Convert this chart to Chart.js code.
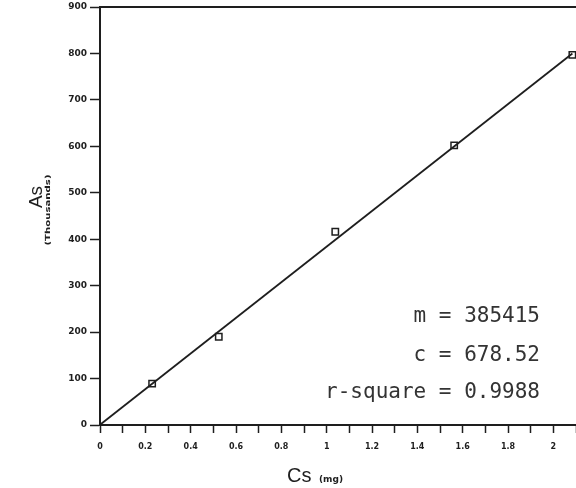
<!DOCTYPE html>
<html>
<head>
<meta charset="UTF-8">
<title>As vs Cs</title>
<script src="https://cdn.jsdelivr.net/npm/chart.js"></script>
<style>
  body { margin:0; background:#fff; }
  #wrap { width:576px; height:488px; position:relative; }
</style>
</head>
<body>
<div id="wrap"><canvas id="c"></canvas></div>
<script>
// measured standards (Cs in mg, As in thousands)
const csValues = [0.23, 0.524, 1.038, 1.5625, 2.084];
const asValues = [89, 190, 416, 602, 797];
// fitted line end points
const fitX = [0, 2.084];
const fitY = [0.7, 800];
const statLines = ['m = 385415', 'c = 678.52', 'r-square = 0.9988'];

const ink = '#1e1e1e';

const labels = {
  id: 'labels',
  afterDraw(chart) {
    const ctx = chart.ctx;
    ctx.save();
    ctx.fillStyle = '#333';
    ctx.font = '21px "DejaVu Sans Mono"';
    ctx.textAlign = 'right';
    ctx.textBaseline = 'middle';
    [317, 356, 393].forEach((y, i) => ctx.fillText(statLines[i], 540, y));

    // x title
    ctx.fillStyle = ink;
    ctx.textAlign = 'left';
    ctx.textBaseline = 'alphabetic';
    ctx.font = '20px "Liberation Sans"';
    ctx.fillText('Cs', 287, 482);
    ctx.font = 'bold 9px "DejaVu Sans"';
    ctx.fillText('(mg)', 319, 482);

    // y title
    ctx.translate(42, 197);
    ctx.rotate(-Math.PI / 2);
    ctx.textAlign = 'center';
    ctx.font = '19px "Liberation Sans"';
    ctx.fillText('As', 0, 0);
    ctx.restore();
    ctx.save();
    ctx.fillStyle = ink;
    ctx.translate(50, 210);
    ctx.rotate(-Math.PI / 2);
    ctx.scale(1.45, 1);
    ctx.textAlign = 'center';
    ctx.font = 'bold 7px "DejaVu Sans"';
    ctx.fillText('(Thousands)', 0, 0);
    ctx.restore();
  }
};

new Chart(document.getElementById('c'), {
  type: 'scatter',
  data: {
    datasets: [
      {
        data: csValues.map((x, i) => ({ x, y: asValues[i] })),
        pointStyle: 'rect',
        pointRadius: 4.5,
        borderColor: ink,
        backgroundColor: 'rgba(0,0,0,0)',
        borderWidth: 1.5,
        showLine: false,
        clip: false
      },
      {
        data: fitX.map((x, i) => ({ x, y: fitY[i] })),
        showLine: true,
        borderColor: ink,
        borderWidth: 1.8,
        pointRadius: 0,
        clip: false
      }
    ]
  },
  options: {
    responsive: true,
    maintainAspectRatio: false,
    animation: false,
    layout: { autoPadding: false, padding: 0 },
    plugins: { legend: { display: false }, tooltip: { enabled: false } },
    scales: {
      x: {
        type: 'linear',
        min: 0, max: 2.1,
        afterFit: s => { s.height = 63; s.paddingLeft = 0; s.paddingRight = 0; },
        border: { display: true, color: ink, width: 2 },
        grid: { drawOnChartArea: false, tickLength: 8, tickColor: ink, tickWidth: 1.5 },
        ticks: {
          stepSize: 0.1,
          autoSkip: false,
          maxRotation: 0,
          padding: 9,
          color: ink,
          font: { family: 'DejaVu Sans', weight: 'bold', size: 8 },
          callback: v => {
            const t = Math.round(v * 10);
            return (t % 2 === 0 && t <= 20) ? String(t / 10) : '';
          }
        }
      },
      x2: {
        type: 'linear',
        position: 'top',
        min: 0, max: 2.1,
        afterFit: s => { s.height = 7; s.paddingLeft = 0; s.paddingRight = 0; },
        border: { display: true, color: ink, width: 2 },
        grid: { drawOnChartArea: false, drawTicks: false },
        ticks: { display: false }
      },
      y: {
        min: 0, max: 900,
        afterFit: s => { s.width = 100; s.paddingTop = 0; s.paddingBottom = 0; },
        border: { display: true, color: ink, width: 2 },
        grid: { drawOnChartArea: false, tickLength: 10, tickColor: ink, tickWidth: 1.5 },
        ticks: {
          stepSize: 100,
          padding: 3,
          color: ink,
          font: { family: 'DejaVu Sans', weight: 'bold', size: 9 }
        }
      }
    }
  },
  plugins: [labels]
});
</script>
</body>
</html>
